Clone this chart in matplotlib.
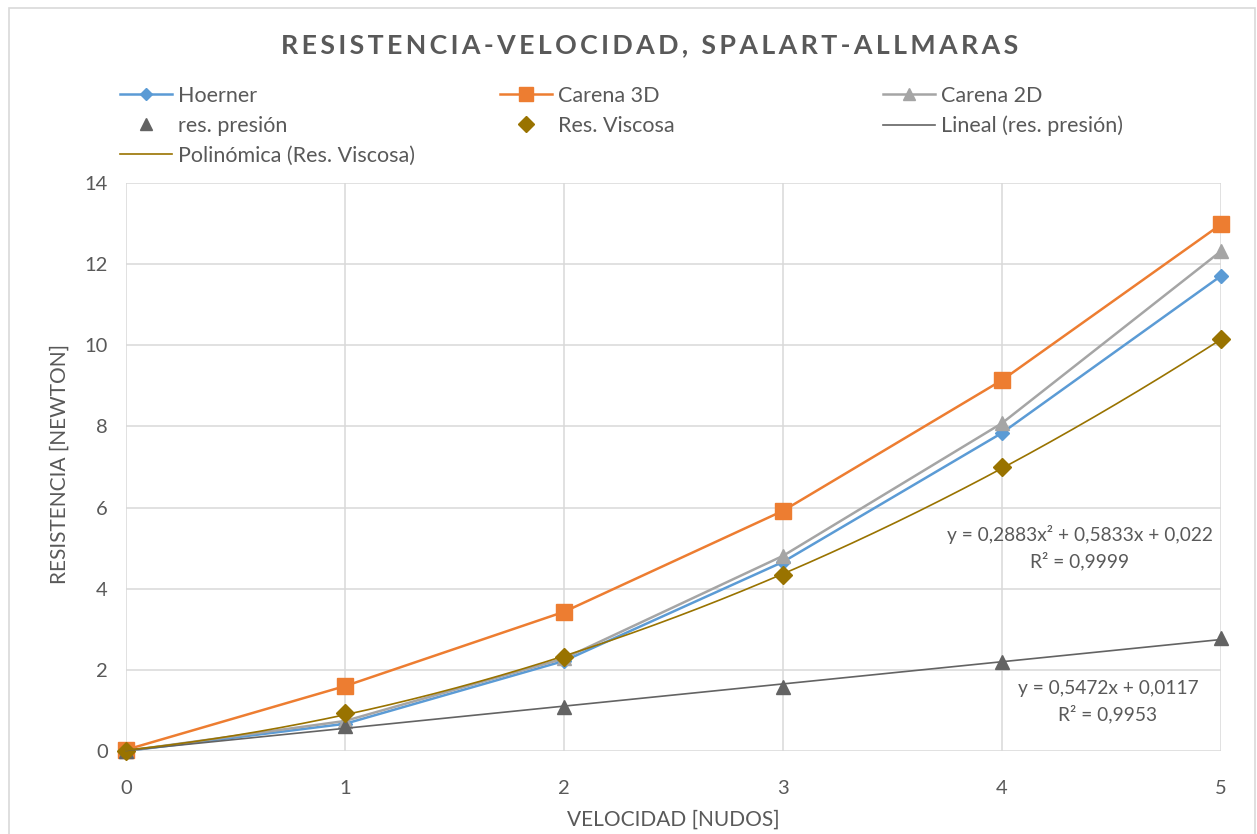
# Resistencia frente a velocidad, modelo Spalart-Allmaras, con líneas de tendencia.

import numpy as np
import matplotlib.pyplot as plt
from matplotlib.lines import Line2D
from matplotlib.patches import Rectangle

W, H = 1257, 834

velocidad = [0, 1, 2, 3, 4, 5]
hoerner = [0.0, 0.67, 2.22, 4.66, 7.84, 11.71]
carena_3d = [0.03, 1.60, 3.43, 5.92, 9.14, 12.98]
carena_2d = [0.0, 0.74, 2.28, 4.81, 8.08, 12.32]
res_presion = [0.0, 0.62, 1.08, 1.58, 2.20, 2.78]
res_viscosa = [0.0, 0.94, 2.32, 4.34, 7.00, 10.15]

# coeficientes de las líneas de tendencia (de mayor a menor grado)
tend_lineal = [0.5472, 0.0117]
tend_poli = [0.2883, 0.5833, 0.022]
r2_lineal = "0,9953"
r2_poli = "0,9999"

GRIS_TXT = "#595959"
AZUL = "#5B9BD5"
NARANJA = "#ED7D31"
GRIS = "#A5A5A5"
GRIS_OSC = "#636363"
OLIVA = "#997300"

plt.rcParams['font.family'] = ['Lato', 'DejaVu Sans']


def fig_xy(x, y):
    # coordenadas en pixeles (origen arriba a la izquierda) a fraccion de figura
    return x / W, 1 - y / H


def fmt(v):
    return f"{v}".replace(".", ",")


fig = plt.figure(figsize=(W / 100, H / 100), dpi=100)
fig.patches.append(Rectangle(fig_xy(8.5, 900), (1255 - 8.5) / W, (900 - 7.5) / H,
                             transform=fig.transFigure, fill=False,
                             edgecolor="#D9D9D9", linewidth=1.2))

x0, y0 = fig_xy(126, 751)
x1, y1 = fig_xy(1221, 183)
ax = fig.add_axes([x0, y0, x1 - x0, y1 - y0])

xs = np.linspace(0, 5, 200)
l_hoer, = ax.plot(velocidad, hoerner, color=AZUL, lw=1.8, marker="D", ms=7, label="Hoerner")
l_c3d, = ax.plot(velocidad, carena_3d, color=NARANJA, lw=1.8, marker="s", ms=12, label="Carena 3D")
l_c2d, = ax.plot(velocidad, carena_2d, color=GRIS, lw=1.8, marker="^", ms=10, label="Carena 2D")
l_pres, = ax.plot(velocidad, res_presion, color=GRIS_OSC, lw=0, marker="^", ms=10, label="res. presión")
l_visc, = ax.plot(velocidad, res_viscosa, color=OLIVA, lw=0, marker="D", ms=9, label="Res. Viscosa")
l_lin, = ax.plot(xs, np.polyval(tend_lineal, xs), color=GRIS_OSC, lw=1.2, label="Lineal (res. presión)")
l_pol, = ax.plot(xs, np.polyval(tend_poli, xs), color=OLIVA, lw=1.2, label="Polinómica (Res. Viscosa)")

ax.set_xlim(0, 5)
ax.set_ylim(0, 14)
ax.set_xticks(range(0, 6))
ax.set_yticks(range(0, 15, 2))
ax.grid(True, color="#D9D9D9", lw=1.1)
ax.set_axisbelow(True)
for s in ax.spines.values():
    s.set_visible(False)
ax.tick_params(length=0, labelsize=14.5, colors=GRIS_TXT)
ax.tick_params(axis="x", pad=21)
ax.tick_params(axis="y", pad=13)
for ln in ax.lines:
    ln.set_clip_on(False)

fig.text(*fig_xy(673, 820), "VELOCIDAD [NUDOS]", ha="center", va="center",
         fontsize=15, color=GRIS_TXT)
fig.text(*fig_xy(60, 464), "RESISTENCIA [NEWTON]", ha="center", va="center",
         rotation=90, fontsize=15, color=GRIS_TXT)

titulo = "RESISTENCIA-VELOCIDAD, SPALART-ALLMARAS"
fig.text(*fig_xy(650, 45), "\u2009".join(titulo), ha="center", va="center",
         fontsize=19.3, fontweight="bold", color=GRIS_TXT)

# etiquetas de las lineas de tendencia
txt_pol = (f"y = {fmt(tend_poli[0])}x² + {fmt(tend_poli[1])}x + {fmt(tend_poli[2])}\n"
           f"R² = {r2_poli}")
txt_lin = f"y = {fmt(tend_lineal[0])}x + {fmt(tend_lineal[1])}\nR² = {r2_lineal}"
fig.text(*fig_xy(1080, 548), txt_pol, ha="center", va="center", multialignment="center",
         fontsize=13.8, color=GRIS_TXT, linespacing=1.5)
fig.text(*fig_xy(1108, 702), txt_lin, ha="center", va="center", multialignment="center",
         fontsize=13.8, color=GRIS_TXT, linespacing=1.5)

# leyenda en tres columnas
columnas = [
    (120, [l_hoer, l_pres, l_pol]),
    (500, [l_c3d, l_visc]),
    (883, [l_c2d, l_lin]),
]
for xc, handles in columnas:
    hs = []
    for h in handles:
        hs.append(Line2D([], [], color=h.get_color(), lw=h.get_linewidth(),
                         marker=h.get_marker(), ms=h.get_markersize() * 0.85,
                         label=h.get_label()))
    leg = fig.legend(handles=hs, loc="upper left", bbox_to_anchor=fig_xy(xc, 86),
                     frameon=False, fontsize=15.5, borderpad=0, borderaxespad=0,
                     handlelength=2.4, handletextpad=0.3, labelspacing=0.45)
    for t in leg.get_texts():
        t.set_color(GRIS_TXT)

fig.savefig("out.png", dpi=100)
